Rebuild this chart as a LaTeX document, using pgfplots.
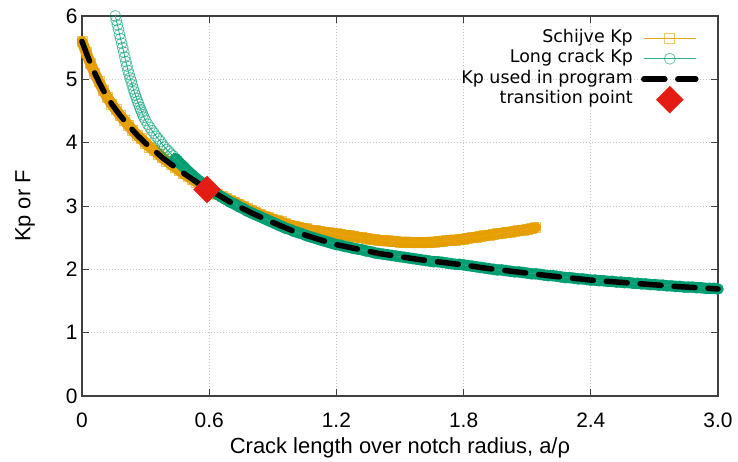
\documentclass[border=0pt]{standalone}
\usepackage{pgfplots}
\pgfplotsset{compat=1.18}
\usepackage{pgfplotstable}
\usepackage{fontspec}
\setmainfont{DejaVu Sans}
\newfontfamily\tickfont{Liberation Sans}
\definecolor{orng}{RGB}{230,159,0}
\definecolor{grn}{RGB}{0,158,115}
\definecolor{dred}{RGB}{228,28,20}
\pgfplotsset{
  linelegend/.style={legend image code/.code={\path[draw=none,fill=none] (0bp,0bp) -- (52bp,0bp); \draw[overlay,mark repeat=2,mark phase=2,##1] plot coordinates {(0bp,0bp) (26bp,0bp) (52bp,0bp)};}},
  diamondlegend/.style={legend image code/.code={\path[draw=none,fill=none] (0bp,0bp) -- (52bp,0bp); \path[overlay,##1] plot coordinates {(26bp,0bp)};}},
}

\pgfplotstableread{
x y
0.00 5.60
0.02 5.42
0.04 5.25
0.06 5.10
0.08 4.96
0.10 4.83
0.12 4.71
0.14 4.61
0.16 4.52
0.18 4.43
0.20 4.35
0.22 4.27
0.24 4.19
0.26 4.12
0.28 4.06
0.30 3.99
0.32 3.93
0.34 3.88
0.36 3.82
0.38 3.76
0.40 3.71
0.42 3.66
0.44 3.61
0.46 3.56
0.48 3.51
0.50 3.47
0.52 3.42
0.54 3.38
0.56 3.34
0.58 3.30
0.60 3.26
0.62 3.22
0.64 3.19
0.66 3.15
0.68 3.12
0.70 3.09
0.72 3.06
0.74 3.03
0.76 3.00
0.78 2.96
0.80 2.93
0.82 2.90
0.84 2.87
0.86 2.84
0.88 2.82
0.90 2.79
0.92 2.77
0.94 2.75
0.96 2.72
0.98 2.70
1.00 2.68
1.02 2.67
1.04 2.65
1.06 2.64
1.08 2.62
1.10 2.61
1.12 2.60
1.14 2.59
1.16 2.58
1.18 2.57
1.20 2.56
1.22 2.55
1.24 2.54
1.26 2.53
1.28 2.52
1.30 2.51
1.32 2.50
1.34 2.49
1.36 2.48
1.38 2.47
1.40 2.46
1.42 2.45
1.44 2.45
1.46 2.44
1.48 2.44
1.50 2.43
1.52 2.43
1.54 2.43
1.56 2.42
1.58 2.42
1.60 2.42
1.62 2.42
1.64 2.43
1.66 2.43
1.68 2.44
1.70 2.44
1.72 2.45
1.74 2.46
1.76 2.46
1.78 2.47
1.80 2.48
1.82 2.49
1.84 2.50
1.86 2.51
1.88 2.52
1.90 2.53
1.92 2.54
1.94 2.55
1.96 2.56
1.98 2.57
2.00 2.58
2.02 2.59
2.04 2.60
2.06 2.61
2.08 2.62
2.10 2.63
2.12 2.64
2.14 2.66
}\schijve

\pgfplotstableread{
x y
0.157 6.00
0.162 5.93
0.167 5.86
0.172 5.79
0.177 5.71
0.182 5.64
0.187 5.57
0.192 5.50
0.197 5.43
0.202 5.35
0.207 5.28
0.212 5.21
0.217 5.14
0.222 5.08
0.227 5.02
0.232 4.97
0.237 4.91
0.242 4.85
0.247 4.80
0.252 4.75
0.257 4.70
0.262 4.65
0.267 4.61
0.272 4.56
0.277 4.52
0.282 4.48
0.287 4.44
0.292 4.40
0.30 4.35
0.31 4.29
0.32 4.24
0.33 4.19
0.34 4.15
0.35 4.10
0.36 4.06
0.37 4.02
0.38 3.97
0.39 3.93
0.40 3.89
0.41 3.86
0.42 3.82
0.43 3.79
0.44 3.75
0.45 3.72
0.46 3.68
0.47 3.65
0.48 3.62
0.49 3.58
0.50 3.55
0.52 3.49
0.54 3.43
0.56 3.38
0.58 3.32
0.60 3.27
0.62 3.22
0.64 3.18
0.66 3.14
0.68 3.10
0.70 3.06
0.72 3.03
0.74 2.99
0.76 2.96
0.78 2.92
0.80 2.89
0.82 2.86
0.84 2.83
0.86 2.80
0.88 2.77
0.90 2.74
0.92 2.71
0.94 2.68
0.96 2.65
0.98 2.63
1.00 2.60
1.02 2.58
1.04 2.56
1.06 2.53
1.08 2.51
1.10 2.49
1.12 2.47
1.14 2.45
1.16 2.43
1.18 2.41
1.20 2.39
1.22 2.38
1.24 2.36
1.26 2.35
1.28 2.33
1.30 2.32
1.32 2.31
1.34 2.29
1.36 2.28
1.38 2.26
1.40 2.25
1.42 2.24
1.44 2.23
1.46 2.22
1.48 2.21
1.50 2.20
1.52 2.19
1.54 2.18
1.56 2.17
1.58 2.16
1.60 2.15
1.62 2.14
1.64 2.13
1.66 2.12
1.68 2.12
1.70 2.11
1.72 2.10
1.74 2.09
1.76 2.08
1.78 2.08
1.80 2.07
1.82 2.06
1.84 2.05
1.86 2.04
1.88 2.03
1.90 2.02
1.92 2.01
1.94 2.00
1.96 1.99
1.98 1.99
2.00 1.98
2.02 1.97
2.04 1.96
2.06 1.96
2.08 1.95
2.10 1.94
2.12 1.93
2.14 1.93
2.16 1.92
2.18 1.91
2.20 1.90
2.22 1.90
2.24 1.89
2.26 1.88
2.28 1.87
2.30 1.87
2.32 1.86
2.34 1.85
2.36 1.85
2.38 1.84
2.40 1.83
2.42 1.83
2.44 1.82
2.46 1.82
2.48 1.81
2.50 1.81
2.52 1.80
2.54 1.80
2.56 1.79
2.58 1.79
2.60 1.78
2.62 1.78
2.64 1.77
2.66 1.77
2.68 1.76
2.70 1.76
2.72 1.75
2.74 1.75
2.76 1.74
2.78 1.74
2.80 1.73
2.82 1.73
2.84 1.72
2.86 1.72
2.88 1.72
2.90 1.71
2.92 1.71
2.94 1.70
2.96 1.70
2.98 1.70
3.00 1.69
}\longcrack

\pgfplotstableread{
x y
0.00 5.60
0.02 5.42
0.04 5.25
0.06 5.10
0.08 4.96
0.10 4.83
0.14 4.61
0.18 4.43
0.22 4.27
0.26 4.12
0.30 3.99
0.34 3.88
0.38 3.76
0.42 3.66
0.46 3.56
0.50 3.47
0.54 3.38
0.59 3.26
0.64 3.18
0.70 3.06
0.80 2.89
0.90 2.74
1.00 2.60
1.10 2.49
1.20 2.39
1.30 2.32
1.40 2.25
1.50 2.20
1.60 2.15
1.70 2.11
1.80 2.07
1.90 2.02
2.00 1.98
2.20 1.90
2.40 1.83
2.60 1.78
2.80 1.73
3.00 1.69
}\kpused

\begin{document}
\begin{tikzpicture}
\begin{axis}[
  at={(0,0)}, anchor=south west,
  scale only axis, width=636bp, height=380bp,
  xmin=0, xmax=3, ymin=0, ymax=6,
  clip=false,
  clip marker paths=true,
  xtick={0,0.6,1.2,1.8,2.4,3.0},
  xticklabels={0,0.6,1.2,1.8,2.4,3.0},
  ytick={0,1,2,3,4,5,6},
  tick align=inside,
  major tick length=7bp,
  axis line style={black!75, line width=1.1bp},
  every tick/.style={black!75, line width=1bp},
  grid=major,
  major grid style={gray!45, line width=0.8bp, dash pattern=on 1bp off 2bp},
  /pgf/number format/assume math mode=true,
  ticklabel style={font=\tickfont\fontsize{21}{23}\selectfont},
  xticklabel style={anchor=center, yshift=-24bp},
  yticklabel style={xshift=-1bp},
  xlabel={Crack length over notch radius, a/ρ},
  ylabel={Kp or F},
  xlabel style={font=\tickfont\fontsize{22}{24}\selectfont, at={(axis description cs:0.5,0)}, anchor=center, yshift=-52bp},
  ylabel style={font=\tickfont\fontsize{22}{24}\selectfont, at={(axis description cs:0,0.5)}, anchor=center, yshift=57bp},
  legend plot pos=right,
  legend cell align=right,
  linelegend,
  legend style={at={(rel axis cs:1,1)}, anchor=north east, xshift=-22bp, yshift=-13bp,
    draw=none, fill=none, inner sep=0pt, column sep=10bp, row sep=2.5bp,
    font=\fontsize{17.5}{19}\selectfont,
    nodes={inner sep=1bp, text height=12bp, text depth=4bp}},
]
% Schijve Kp
\addplot[orng, line width=11bp, line join=round, line cap=round, forget plot]
  table[x=x,y=y] {\schijve};
\addplot[orng!90, line width=0.8bp, mark=square, mark size=5bp,
  mark options={draw=orng, draw opacity=0.6, line width=0.8bp}]
  table[x=x,y=y] {\schijve};
\addlegendentry{Schijve Kp}
% Long crack Kp
\addplot[grn, line width=11bp, line join=round, line cap=round, forget plot,
  restrict x to domain=0.44:3.1]
  table[x=x,y=y] {\longcrack};
\addplot[grn!80, line width=0.8bp, mark=o, mark size=5.5bp,
  mark options={draw=grn, draw opacity=0.6, line width=0.8bp}]
  table[x=x,y=y] {\longcrack};
\addlegendentry{Long crack Kp}
% Kp used
\addplot[black, line width=5.5bp, line cap=round, dash pattern=on 21bp off 13bp, no marks]
  table[x=x,y=y] {\kpused};
\addlegendentry{Kp used in program}
% transition point
\addplot[only marks, mark=square*, mark size=9.5bp,
  mark options={rotate=45, fill=dred, draw=dred}, diamondlegend]
  coordinates {(0.59,3.26)};
\addlegendentry{transition point}
\end{axis}
\pgfresetboundingbox
\path[use as bounding box] (-82bp,-66bp) rectangle (656bp,396bp);
\end{tikzpicture}
\end{document}
